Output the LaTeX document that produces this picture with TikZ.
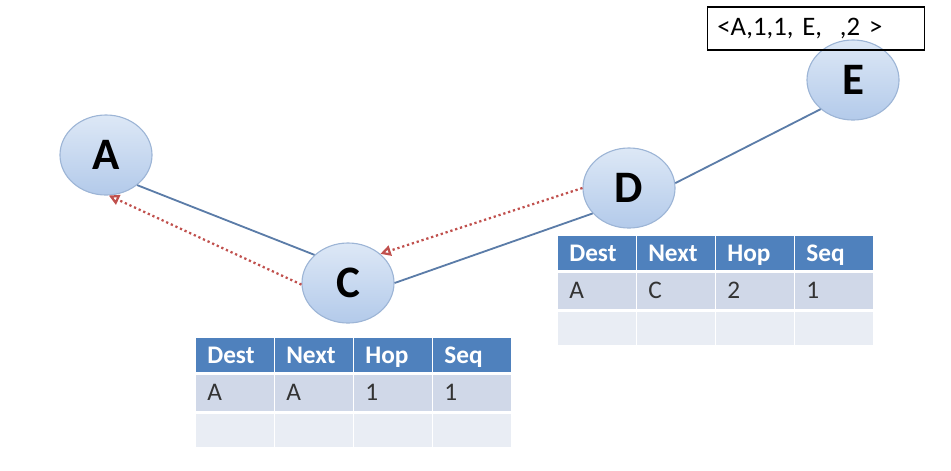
\documentclass[tikz,border=0pt]{standalone}
\usepackage{fontspec}
\setmainfont{Carlito}
\usetikzlibrary{shapes.geometric,arrows.meta,positioning}
\definecolor{hdrblue}{HTML}{4F81BD}
\definecolor{rowdark}{HTML}{D0D8E8}
\definecolor{rowlight}{HTML}{E9EDF4}
\definecolor{hostedge}{HTML}{9DB5D6}
\definecolor{hosttop}{HTML}{DDE8F6}
\definecolor{hostbot}{HTML}{B3CAEA}
\definecolor{linkblue}{HTML}{5B7CA8}
\definecolor{rreqred}{HTML}{C0504D}
\tikzstyle{host} = [ellipse, minimum width=2.3cm, minimum height=2cm, draw=hostedge, line width=0.8pt, top color=hosttop, bottom color=hostbot, font=\fontsize{32}{34}\selectfont\bfseries]
\tikzstyle{link} = [draw=linkblue, line width=1.3pt]
\tikzstyle{rreq} = [draw=rreqred, line width=1.6pt, dotted, -{Triangle[open, length=2.6mm, width=2.6mm]}]
\tikzstyle{hcell} = [rectangle, anchor=north west, fill=hdrblue, draw=white, line width=1pt, text=white, font=\fontsize{18}{20}\selectfont\bfseries, text width=1.39cm, inner xsep=0.29cm, text height=0.41cm, text depth=0.02cm, minimum height=0.875cm, align=left]
\tikzstyle{dcell} = [hcell, fill=rowdark, text=black!80, font=\fontsize{18}{20}\selectfont, minimum height=0.95cm]
\tikzstyle{ecell} = [dcell, fill=rowlight, minimum height=0.85cm]
\tikzstyle{msg} = [rectangle, draw=black, line width=1.2pt, text width=4.93cm, inner xsep=0.25cm, minimum height=1.075cm, align=left, font=\fontsize{19}{21}\selectfont]

\begin{document}
\begin{tikzpicture}[x=0.025cm, y=-0.025cm]
        \useasboundingbox (0,0) rectangle (951,470);
        % hosts
        \node (A) [host] at (106,155) {A};
        \node (C) [host] at (348,283) {C};
        \node (D) [host] at (629,188) {D};
        \node (E) [host] at (853,80) {E};
        \node (rreqmsg) [msg] at (816,28.5) {<A,1,1, E,\ \ ,2 >};

        % links
        \path [link] (A.-44) -- (C.140);
        \path [link] (C.0) -- (D.215);
        \path [link] (D.6) -- (E.222);

        % reverse route
        \path [rreq] (D.180) -- (C.42);
        \path [rreq] (C.182) -- (A.-86);

        % table at C
        \foreach \txt [count=\i] in {Dest,Next,Hop,Seq}
            \node (cth\i) [hcell] at ({195+(\i-1)*79},337) {\txt};
        \foreach \txt [count=\i] in {A,A,1,1}
            \node (ctr\i) [dcell, below=0pt of cth\i.south west, anchor=north west] {\txt};
        \foreach \i in {1,...,4}
            \node (cte\i) [ecell, below=0pt of ctr\i.south west, anchor=north west] {};

        % table at D
        \foreach \txt [count=\i] in {Dest,Next,Hop,Seq}
            \node (dth\i) [hcell] at ({557+(\i-1)*79},235) {\txt};
        \foreach \txt [count=\i] in {A,C,2,1}
            \node (dtr\i) [dcell, below=0pt of dth\i.south west, anchor=north west] {\txt};
        \foreach \i in {1,...,4}
            \node (dte\i) [ecell, below=0pt of dtr\i.south west, anchor=north west] {};
\end{tikzpicture}
\end{document}
